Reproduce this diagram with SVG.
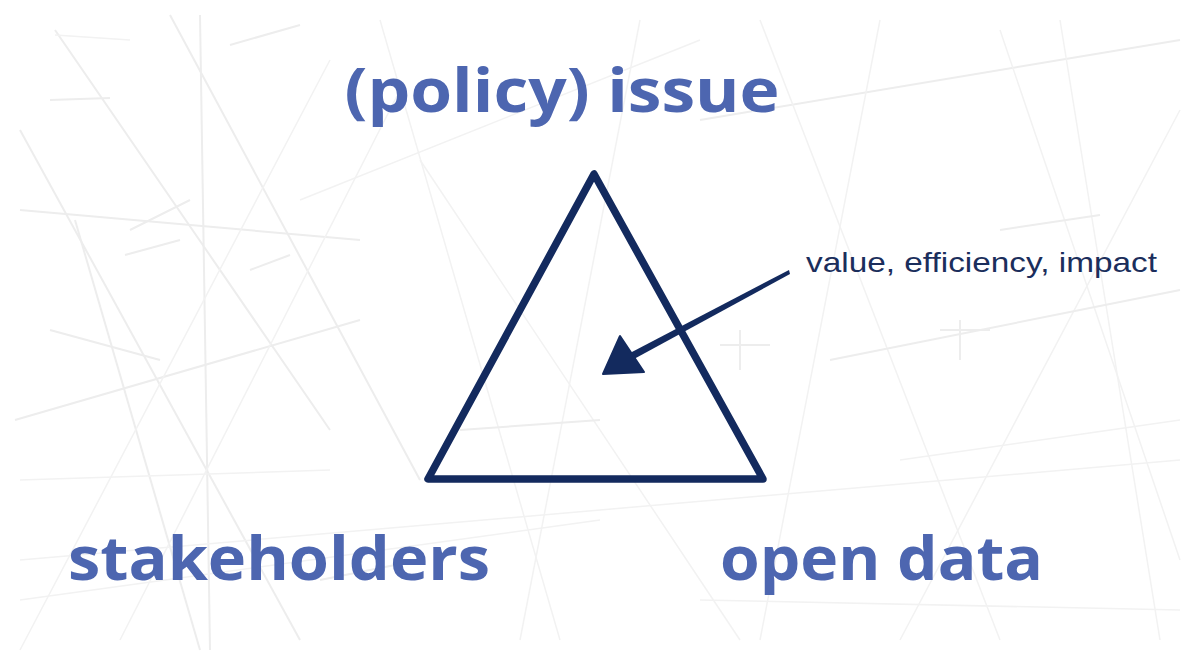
<svg xmlns="http://www.w3.org/2000/svg" width="1194" height="668" viewBox="0 0 1194 668">
<style>
.big{font-family:"Open Sans","DejaVu Sans",sans-serif;font-weight:bold;font-size:60px;fill:#4d66b0}
.small{font-family:"Liberation Sans",Arial,sans-serif;font-size:28px;fill:#1b2e5c}
.bg line{stroke:#ededed;stroke-width:2}
.bg .t{stroke:#f2f2f2;stroke-width:1.5}
.ink{stroke:#132a5e;fill:none;stroke-linejoin:round;stroke-linecap:round}
</style>
<rect width="1194" height="668" fill="#ffffff"/>
<g class="bg">
<line x1="20" y1="130" x2="300" y2="640"/>
<line x1="75" y1="220" x2="200" y2="650"/>
<line x1="55" y1="30" x2="330" y2="430"/>
<line x1="170" y1="15" x2="420" y2="480"/>
<line x1="200" y1="15" x2="210" y2="650"/>
<line x1="15" y1="420" x2="360" y2="320"/>
<line x1="20" y1="210" x2="360" y2="240"/>
<line x1="55" y1="35" x2="130" y2="40" class="t"/>
<line x1="130" y1="230" x2="190" y2="200"/>
<line x1="230" y1="45" x2="300" y2="25"/>
<line x1="50" y1="100" x2="110" y2="98"/>
<line x1="125" y1="255" x2="180" y2="240"/>
<line x1="250" y1="270" x2="290" y2="255"/>
<line x1="20" y1="650" x2="330" y2="60" class="t"/>
<line x1="120" y1="640" x2="400" y2="90" class="t"/>
<line x1="380" y1="20" x2="560" y2="640" class="t"/>
<line x1="300" y1="200" x2="700" y2="40" class="t"/>
<line x1="420" y1="160" x2="740" y2="640" class="t"/>
<line x1="640" y1="20" x2="520" y2="640" class="t"/>
<line x1="700" y1="120" x2="1180" y2="40"/>
<line x1="760" y1="20" x2="1000" y2="640" class="t"/>
<line x1="880" y1="20" x2="760" y2="640" class="t"/>
<line x1="1000" y1="30" x2="1180" y2="560" class="t"/>
<line x1="1180" y1="110" x2="900" y2="640" class="t"/>
<line x1="1060" y1="20" x2="1160" y2="640" class="t"/>
<line x1="830" y1="360" x2="1180" y2="290"/>
<line x1="940" y1="330" x2="990" y2="330"/>
<line x1="960" y1="320" x2="960" y2="360"/>
<line x1="720" y1="345" x2="770" y2="345"/>
<line x1="740" y1="330" x2="740" y2="370"/>
<line x1="900" y1="460" x2="1180" y2="420" class="t"/>
<line x1="20" y1="560" x2="1180" y2="460" class="t"/>
<line x1="20" y1="600" x2="600" y2="520" class="t"/>
<line x1="700" y1="600" x2="1180" y2="610" class="t"/>
<line x1="320" y1="580" x2="420" y2="560"/>
<line x1="1000" y1="230" x2="1100" y2="215"/>
<line x1="460" y1="430" x2="600" y2="420"/>
<line x1="20" y1="480" x2="330" y2="470" class="t"/>
<line x1="50" y1="330" x2="160" y2="360"/>
</g>
<g id="triangle">
<polygon class="ink" points="594,174 428,479 763,479" stroke-width="7.5"/>
</g>
<g id="connectors">
<polygon points="789,270 790,274 634,359 630,353" fill="#132a5e"/>
<polygon points="620,336 603,374 644,372" fill="#132a5e" stroke="#132a5e" stroke-width="2" stroke-linejoin="round"/>
</g>
<g id="node-issue">
<text class="big" x="562" y="112" text-anchor="middle" textLength="435" lengthAdjust="spacingAndGlyphs">(policy) issue</text>
</g>
<g id="node-stakeholders">
<text class="big" x="68" y="580" textLength="422" lengthAdjust="spacingAndGlyphs">stakeholders</text>
</g>
<g id="node-opendata">
<text class="big" x="720" y="580" textLength="323" lengthAdjust="spacingAndGlyphs">open data</text>
</g>
<g id="label-value">
<text class="small" x="806" y="272" textLength="351" lengthAdjust="spacingAndGlyphs">value, efficiency, impact</text>
</g>
</svg>
